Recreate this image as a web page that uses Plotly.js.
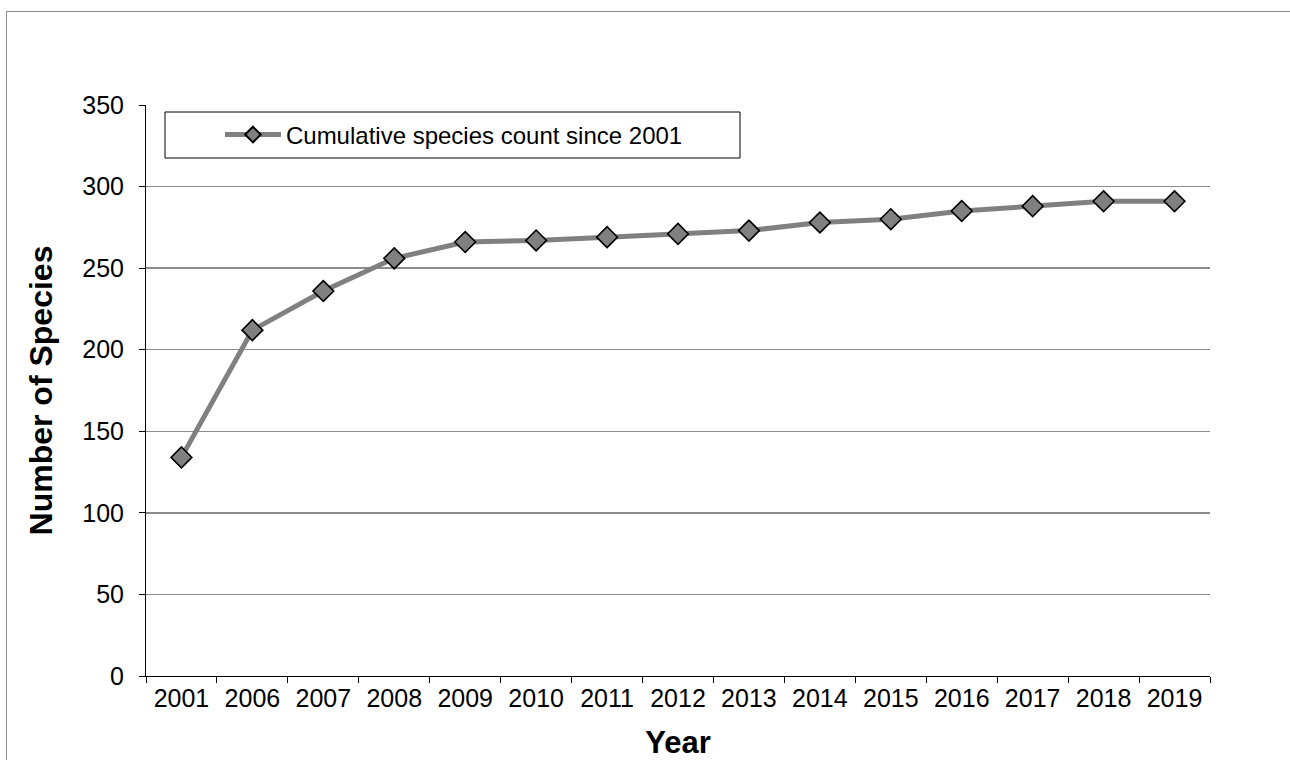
<!DOCTYPE html>
<html>
<head>
<meta charset="utf-8">
<script src="https://cdn.plot.ly/plotly-3.0.1.min.js"></script>
<style>
html,body{margin:0;padding:0;background:#fff;overflow:hidden;}
#frame{position:absolute;left:6px;top:11px;width:1400px;height:900px;border:1px solid #8c8c8c;box-sizing:border-box;}
#chart{position:absolute;left:0;top:0;width:1290px;height:760px;}
</style>
</head>
<body>
<div id="frame"></div>
<div id="chart"></div>
<script>
const years = ["2001","2006","2007","2008","2009","2010","2011","2012","2013","2014","2015","2016","2017","2018","2019"];
const speciesCount = [134,212,236,256,266,267,269,271,273,278,280,285,288,291,291];
const seriesName = "Cumulative species count since 2001";
const yTicks = [0,50,100,150,200,250,300,350];

const trace = {
  x: years, y: speciesCount, type: 'scatter', mode: 'lines+markers', name: seriesName,
  line: {color: '#808080', width: 5},
  marker: {symbol: 'diamond', size: 16, color: '#808080', line: {color: '#000', width: 1.6}}
};

const layout = {
  width: 1290, height: 760,
  margin: {l: 146, r: 80, t: 105, b: 84},
  paper_bgcolor: 'rgba(0,0,0,0)', plot_bgcolor: '#fff',
  font: {family: 'Liberation Sans, Arial, sans-serif', color: '#000', size: 25},
  showlegend: true,
  legend: {x: 0.0695, y: 0.9475, xanchor: 'left', yanchor: 'middle', bgcolor: 'rgba(0,0,0,0)',
           font: {size: 24, color: '#000'}, borderwidth: 0, itemwidth: 56, itemsizing: 'constant'},
  xaxis: {
    type: 'category', range: [-0.5, 14.5], tickson: 'boundaries',
    showline: true, linecolor: '#000', linewidth: 1.2,
    ticks: 'outside', ticklen: 6, tickcolor: '#000', tickwidth: 1,
    showgrid: false, tickfont: {size: 25},
    title: {text: 'Year', font: {size: 31, weight: 'bold'}, standoff: 25}
  },
  yaxis: {
    range: [0, 350], tickvals: yTicks, ticktext: yTicks.map(String),
    showline: true, linecolor: '#000', linewidth: 1,
    ticks: 'outside', ticklen: 6, tickcolor: '#000',
    showgrid: true, gridcolor: '#8c8c8c', gridwidth: 1.5,
    zeroline: false, tickfont: {size: 25}, ticklabelstandoff: 10,
    title: {text: 'Number of Species', font: {size: 32, weight: 'bold'}, standoff: 20}
  },
  shapes: [{type: 'rect', xref: 'paper', yref: 'paper',
            x0: (165-146)/1064, x1: (740-146)/1064, y0: (676-158)/571, y1: (676-112)/571,
            line: {color: '#000', width: 1}, fillcolor: '#fff', layer: 'above'}]
};

Plotly.newPlot('chart', [trace], layout, {displayModeBar: false, staticPlot: true});
</script>
</body>
</html>
